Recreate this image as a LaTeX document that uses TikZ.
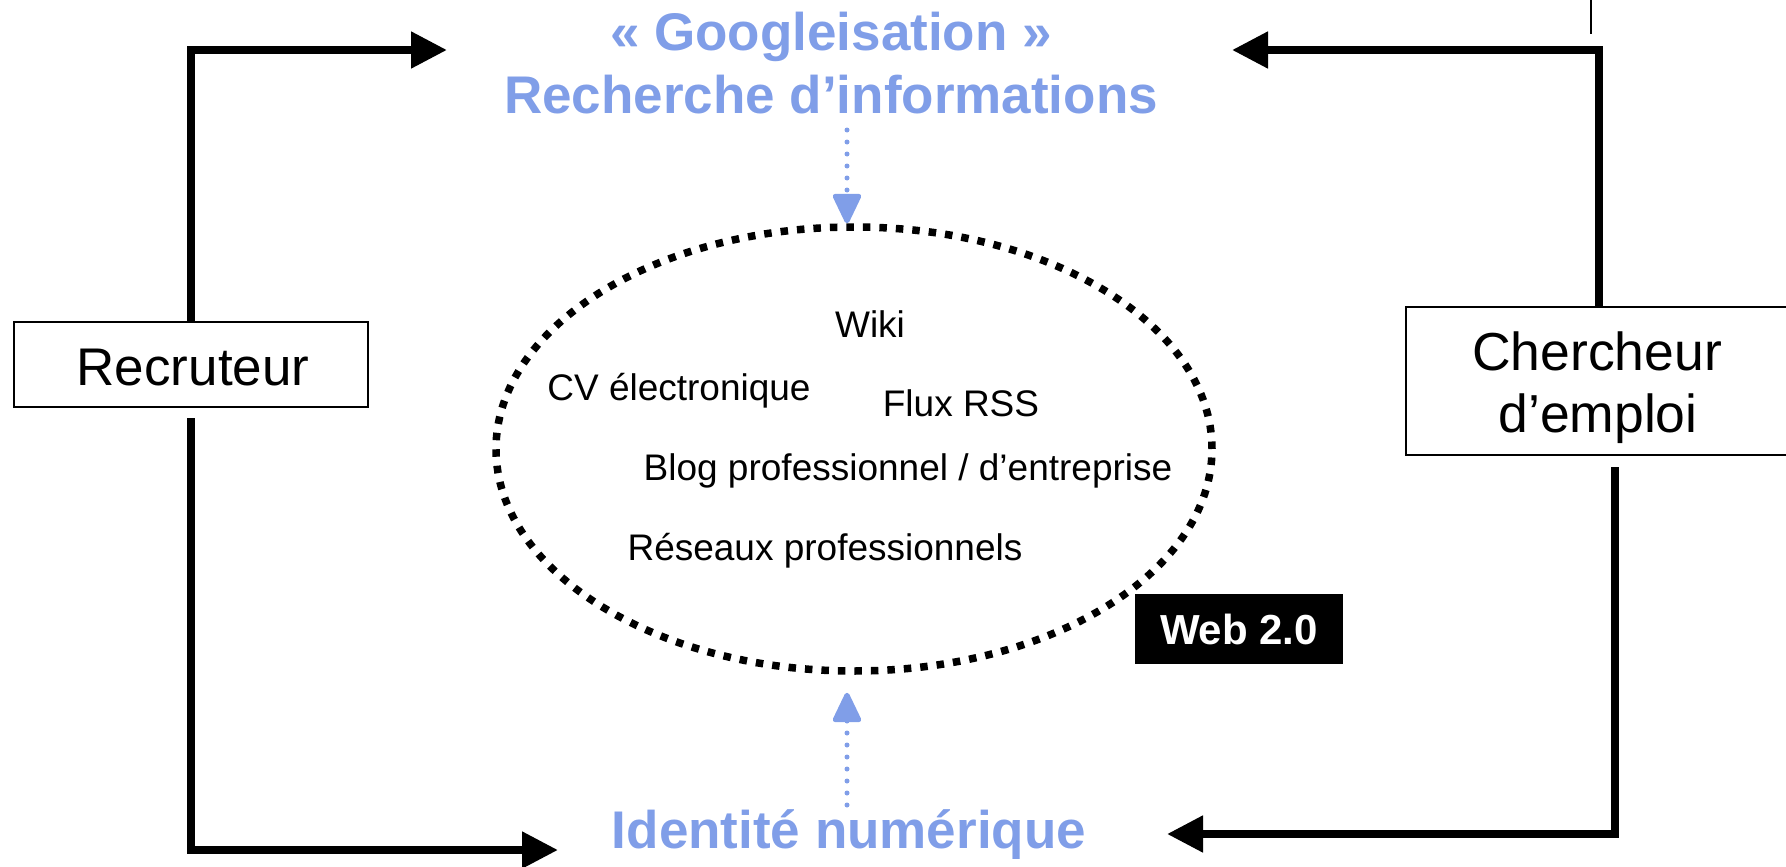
\documentclass[tikz,border=0pt]{standalone}
\usepackage{fontspec}
\setmainfont{Liberation Sans}
\usetikzlibrary{arrows.meta,shapes.geometric}
\definecolor{gblue}{RGB}{128,158,232}
\tikzset{
  conn/.style={line width=8pt, line join=miter, -{Triangle[length=36pt,width=35pt]}},
  bluearrow/.style={gblue, line width=5pt, line cap=round, dash pattern=on 0pt off 12pt, -{Triangle[length=33pt,width=30pt,round=false]}},
  actor/.style={draw, line width=1.8pt, inner sep=0pt, align=center, font=\fontsize{53}{63}\selectfont},
  title/.style={gblue, anchor=base, inner sep=0pt, font=\fontsize{53}{62}\selectfont\bfseries},
  item/.style={anchor=base, inner sep=0pt, font=\fontsize{37}{44}\selectfont},
}
\begin{document}
\begin{tikzpicture}[x=1pt,y=-1pt]
\useasboundingbox (0,0) rectangle (1786,867);
\clip (0,0) rectangle (1786,867);
% actors
\node[actor, minimum width=354pt, minimum height=85pt] (rec) at (191,364.5) {};
\node[anchor=base, inner sep=0pt, font=\fontsize{53}{63}\selectfont] (rect) at (193,385) {Recruteur};
\node[actor, minimum width=382pt, minimum height=148pt] (cher) at (1597,381) {};
\node[anchor=base, inner sep=0pt, font=\fontsize{53.5}{63}\selectfont] (chert1) at (1597,370) {Chercheur};
\node[anchor=base, inner sep=0pt, font=\fontsize{53.5}{63}\selectfont] (chert2) at (1598,432) {d’emploi};
% titles
\node[title] (goog1) at (831,51) {« Googleisation »};
\node[title] (goog2) at (831,113) {Recherche d’informations};
\node[title] (ident) at (849,848) {Identité numérique};
% ellipse
\node[ellipse, draw, line width=7.5pt, dash pattern=on 7.5pt off 9pt, minimum width=716pt, minimum height=444pt] (ell) at (854,449) {};
\node[item] (wiki) at (870,337) {Wiki};
\node[item] (cv) at (679,400) {CV électronique};
\node[item] (rss) at (961,416) {Flux RSS};
\node[item] (blog) at (908,480) {Blog professionnel / d’entreprise};
\node[item] (res) at (825,560) {Réseaux professionnels};
\node[fill=black, text=white, inner sep=0pt, minimum width=208pt, minimum height=70pt, font=\fontsize{42}{50}\selectfont\bfseries] (web) at (1239,629) {Web 2.0};
% coordinates
\coordinate (gL) at (447,50);
\coordinate (gR) at (1232,50);
\coordinate (rB) at (191,418);
\coordinate (iL) at (558,850);
\coordinate (cB) at (1615,467);
\coordinate (iR) at (1167,834);
\coordinate (tb) at (847,130);
\coordinate (bb) at (847,805);
\coordinate (m1) at (1591,0);
\coordinate (m2) at (1591,34);
% connectors
\draw[conn] (rec.north) |- (gL);
\draw[conn] (rB) |- (iL);
\draw[conn] (cher.north -| 1599,0) |- (gR);
\draw[conn] (cB) |- (iR);
\draw[bluearrow] (tb) -- (tb |- ell.north);
\draw[bluearrow, shorten >=18pt] (bb) -- (bb |- ell.south);
\draw[line width=1.5pt] (m1) -- (m2);
\end{tikzpicture}
\end{document}
